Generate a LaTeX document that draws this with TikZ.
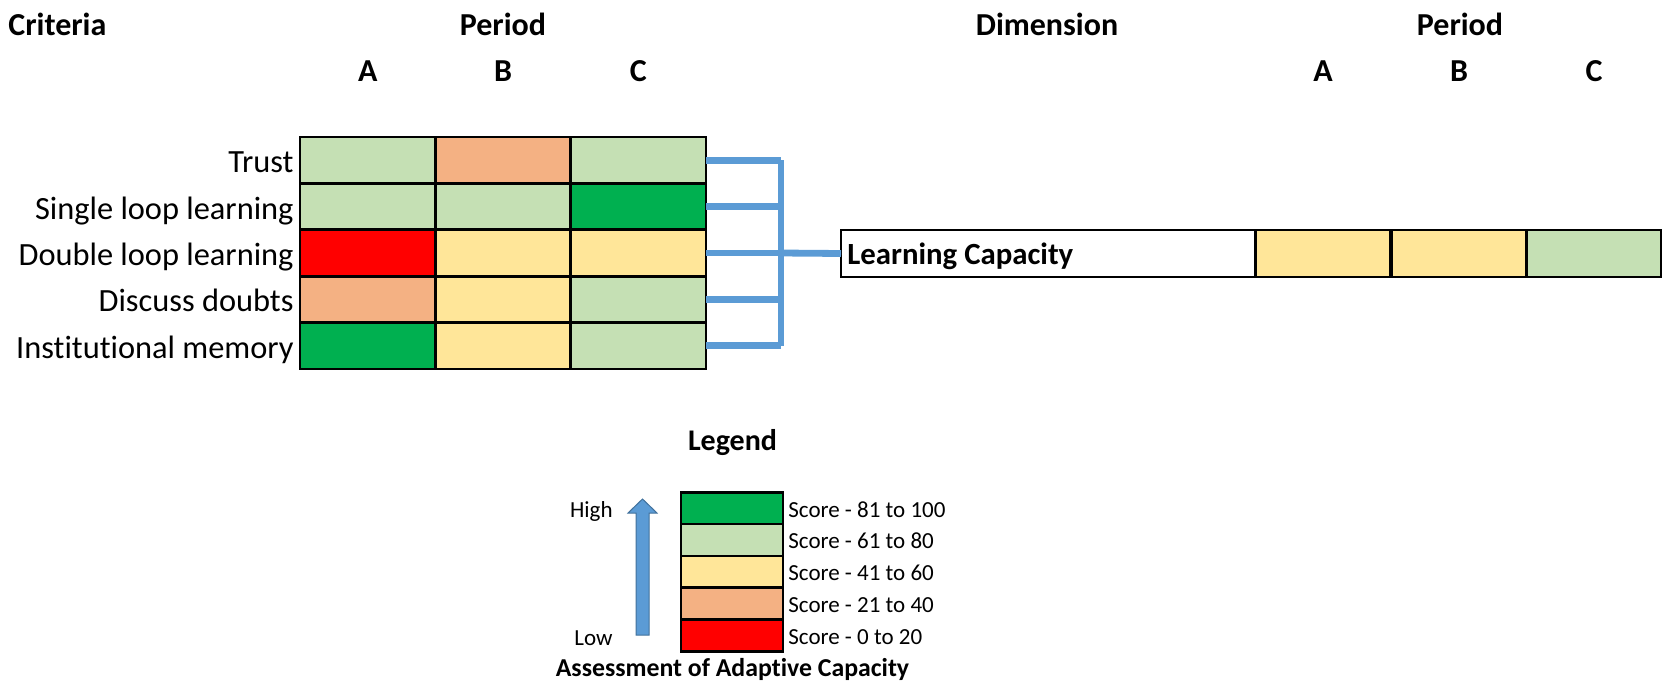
\documentclass[tikz,border=0pt]{standalone}
\usepackage{fontspec}
\setmainfont{Carlito}[Ligatures={NoCommon}]
\definecolor{dgreen}{HTML}{00B050}
\definecolor{lgreen}{HTML}{C5E0B4}
\definecolor{peach}{HTML}{F4B183}
\definecolor{lyellow}{HTML}{FFE699}
\definecolor{sred}{HTML}{FF0000}
\definecolor{linkblue}{HTML}{5B9BD5}
\definecolor{arrowedge}{HTML}{41719C}
\begin{document}
\begin{tikzpicture}[x=0.5pt,y=-0.5pt,
    cell/.style={draw,line width=1.35pt,minimum width=67.7pt,minimum height=23.2pt,inner sep=0pt,outer sep=0pt},
    bigcell/.style={cell,minimum height=23.5pt},
    keycell/.style={draw,line width=1.3pt,minimum width=51pt,minimum height=15.9pt,inner sep=0pt,outer sep=0pt},
    head/.style={anchor=base,font=\bfseries\fontsize{16}{19}\selectfont},
    rowlab/.style={anchor=base east,font=\fontsize{16.2}{19}\selectfont},
    keylab/.style={anchor=base west,font=\fontsize{11.5}{14}\selectfont},
    link/.style={draw=linkblue,line width=3.4pt}]
                \tikzstyle{every node}+=[inner sep=0pt]
                \useasboundingbox (0,0) rectangle (1663,685);
                % headings
                \node[head,anchor=base west] (crit) at (8,35) {Criteria};
                \node[head] (perl) at (503,35) {Period};
                \node[head] (pa) at (367.7,81) {A};
                \node[head] (pb) at (503,81) {B};
                \node[head] (pc) at (638.3,81) {C};
                \node[head] (dim) at (1047,35) {Dimension};
                \node[head] (perr) at (1460,35) {Period};
                \node[head] (qa) at (1323,81) {A};
                \node[head] (qb) at (1459,81) {B};
                \node[head] (qc) at (1594,81) {C};
                % criteria grid
                \node[cell,fill=lgreen] (r1a) at (367.7,160.2) {};
                \node[cell,fill=peach] (r1b) at (503,160.2) {};
                \node[cell,fill=lgreen] (r1c) at (638.3,160.2) {};
                \node[cell,fill=lgreen] (r2a) at (367.7,206.6) {};
                \node[cell,fill=lgreen] (r2b) at (503,206.6) {};
                \node[cell,fill=dgreen] (r2c) at (638.3,206.6) {};
                \node[cell,fill=sred] (r3a) at (367.7,253) {};
                \node[cell,fill=lyellow] (r3b) at (503,253) {};
                \node[cell,fill=lyellow] (r3c) at (638.3,253) {};
                \node[cell,fill=peach] (r4a) at (367.7,299.4) {};
                \node[cell,fill=lyellow] (r4b) at (503,299.4) {};
                \node[cell,fill=lgreen] (r4c) at (638.3,299.4) {};
                \node[cell,fill=dgreen] (r5a) at (367.7,345.8) {};
                \node[cell,fill=lyellow] (r5b) at (503,345.8) {};
                \node[cell,fill=lgreen] (r5c) at (638.3,345.8) {};
                \node[rowlab] (l1) at (294,172.7) {Trust};
                \node[rowlab] (l2) at (294,219.1) {Single loop learning};
                \node[rowlab] (l3) at (294,265.5) {Double loop learning};
                \node[rowlab] (l4) at (294,311.9) {Discuss doubts};
                \node[rowlab] (l5) at (294,358.3) {Institutional memory};
                % dimension row
                \node[bigcell,minimum width=207pt] (lc) at (1048,253.5) {};
                \node[font=\bfseries\fontsize{15.4}{18}\selectfont,anchor=base west] (lct) at (847,264) {Learning Capacity};
                \node[bigcell,fill=lyellow] (da) at (1323,253.5) {};
                \node[bigcell,fill=lyellow] (db) at (1459,253.5) {};
                \node[bigcell,fill=lgreen,minimum width=67pt] (dc) at (1594,253.5) {};
                % bracket
                \coordinate (j1) at (781,160.2);
                \coordinate (j2) at (781,206.6);
                \coordinate (j3) at (781,253);
                \coordinate (j4) at (781,299.4);
                \coordinate (j5) at (781,345.8);
                \draw[link] (r1c.east) -- (j1);
                \draw[link] (r2c.east) -- (j2);
                \draw[link] (r3c.east) -- (j3);
                \draw[link] (r4c.east) -- (j4);
                \draw[link] (r5c.east) -- (j5);
                \draw[link] (j1) -- (j5);
                \draw[link] (j3) -- (lc.west);
                % legend
                \node[font=\bfseries\fontsize{15}{18}\selectfont,anchor=base] (leg) at (732.5,450.5) {Legend};
                \node[keycell,fill=dgreen] (k5) at (732,508.4) {};
                \node[keycell,fill=lgreen] (k4) at (732,540) {};
                \node[keycell,fill=lyellow] (k3) at (732,572) {};
                \node[keycell,fill=peach] (k2) at (732,603.5) {};
                \node[keycell,fill=sred] (k1) at (732,635.5) {};
                \node[keylab] (s5) at (788,517) {Score - 81 to 100};
                \node[keylab] (s4) at (788,548.5) {Score - 61 to 80};
                \node[keylab] (s3) at (788,580.5) {Score - 41 to 60};
                \node[keylab] (s2) at (788,612) {Score - 21 to 40};
                \node[keylab] (s1) at (788,644) {Score - 0 to 20};
                \node[keylab,anchor=base east] (hi) at (613,517) {High};
                \node[keylab,anchor=base east] (lo) at (613,645) {Low};
                \draw[fill=linkblue,draw=arrowedge,line width=0.5pt] (636,635) -- (636,513) -- (628,513) -- (642.5,499) -- (657,513) -- (649,513) -- (649,635) -- cycle;
                \node[font=\bfseries\fontsize{12.9}{15}\selectfont,anchor=base] (acap) at (732.5,676.5) {Assessment of Adaptive Capacity};
            \end{tikzpicture}
\end{document}
